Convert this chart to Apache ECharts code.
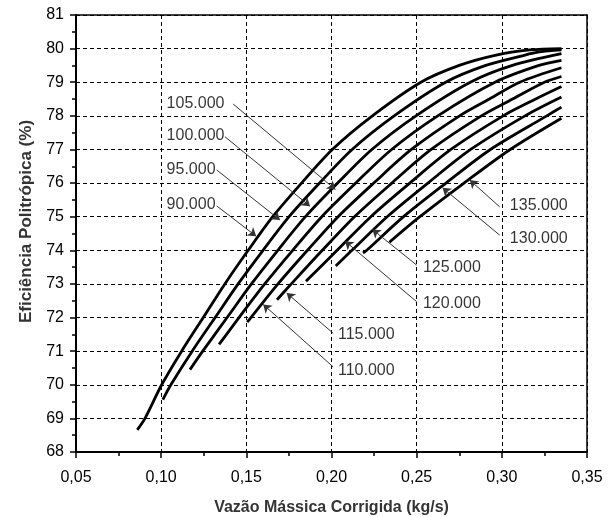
<!DOCTYPE html>
<html><head><meta charset="utf-8">
<script src="https://cdn.jsdelivr.net/npm/echarts@6/dist/echarts.min.js"></script>
<style>html,body{margin:0;padding:0;background:#fff}#c{width:611px;height:517px}</style>
</head><body><div id="c"></div>
<script>
// Tick labels
const xTickLabels = ['0,05','0,10','0,15','0,20','0,25','0,30','0,35'];
const yTickLabels = ['68','69','70','71','72','73','74','75','76','77','78','79','80','81'];

// Curves: [corrected mass flow (kg/s), polytropic efficiency (%)]
const curve90  = [[0.0860,68.66],[0.0905,69],[0.1003,70],[0.1120,71],[0.1247,72],[0.1374,73],[0.1511,74],[0.1655,75],[0.1824,76],[0.2005,77],[0.2240,78],[0.2525,79],[0.2750,79.5],[0.2960,79.8],[0.3164,79.96],[0.3350,80.0]];
const curve95  = [[0.1010,69.56],[0.1057,70],[0.1182,71],[0.1317,72],[0.1452,73],[0.1598,74],[0.1751,75],[0.1930,76],[0.2121,77],[0.2368,78],[0.2670,79],[0.2906,79.5],[0.3130,79.8],[0.3220,79.9],[0.3350,79.96]];
const curve100 = [[0.1169,70.45],[0.1244,71],[0.1387,72],[0.1530,73],[0.1685,74],[0.1847,75],[0.2036,76],[0.2237,77],[0.2496,78],[0.2815,79],[0.3062,79.5],[0.3350,79.85]];
const curve105 = [[0.1340,71.2],[0.1457,72],[0.1608,73],[0.1772,74],[0.1943,75],[0.2142,76],[0.2353,77],[0.2624,78],[0.2960,79],[0.3218,79.5],[0.3350,79.65]];
const curve110 = [[0.1505,71.86],[0.1527,72],[0.1686,73],[0.1859,74],[0.2039,75],[0.2248,76],[0.2469,77],[0.2752,78],[0.2927,78.5],[0.3105,79],[0.3350,79.43]];
const curve115 = [[0.1680,72.53],[0.1764,73],[0.1946,74],[0.2135,75],[0.2354,76],[0.2585,77],[0.2880,78],[0.3063,78.5],[0.3250,79],[0.3350,79.17]];
const curve120 = [[0.1850,73.08],[0.2033,74],[0.2231,75],[0.2460,76],[0.2701,77],[0.3008,78],[0.3199,78.5],[0.3350,78.87]];
const curve125 = [[0.2025,73.53],[0.2120,74],[0.2327,75],[0.2566,76],[0.2817,77],[0.3136,78],[0.3350,78.56]];
const curve130 = [[0.2185,73.92],[0.2207,74],[0.2423,75],[0.2672,76],[0.2933,77],[0.3264,78],[0.3350,78.26]];
const curve135 = [[0.2340,74.24],[0.2519,75],[0.2778,76],[0.3049,77],[0.3350,77.93]];

const seriesNames = ['90.000','95.000','100.000','105.000','110.000','115.000','120.000','125.000','130.000','135.000'];
const curves = [curve90,curve95,curve100,curve105,curve110,curve115,curve120,curve125,curve130,curve135];

// Annotation labels: [text, x, y] (text left edge, vertical centre)
const labelPoints = [
  ['105.000',0.1032,78.37],['100.000',0.1032,77.40],['95.000',0.1032,76.39],['90.000',0.1032,75.35],
  ['135.000',0.3047,75.32],['130.000',0.3047,74.35],['125.000',0.2537,73.49],['120.000',0.2537,72.42],
  ['115.000',0.2038,71.48],['110.000',0.2038,70.43]
];
// Arrow leader lines: start point and tip
const arrowStarts = [[0.1423,78.35],[0.1374,77.38],[0.1326,76.39],[0.1326,75.32],[0.2988,75.29],[0.2988,74.45],[0.2500,73.56],[0.2500,72.47],[0.2010,71.53],[0.2010,70.53]];
const arrowTips   = [[0.2023,75.81],[0.1874,75.31],[0.1698,74.90],[0.1558,74.42],[0.2812,76.09],[0.2652,75.86],[0.2240,74.62],[0.2080,74.27],[0.1737,72.73],[0.1599,72.39]];

const FONT = 'Liberation Sans, Arial, sans-serif';
const chart = echarts.init(document.getElementById('c'), null, {renderer:'canvas'});

const series = curves.map((d,i)=>({
  name: seriesNames[i], type:'line', data:d, smooth:0.3, symbol:'none',
  lineStyle:{color:'#000', width:2.8}, z:3
}));
series.push({
  type:'lines', coordinateSystem:'cartesian2d', z:4,
  symbol:['none','arrow'], symbolSize:8,
  lineStyle:{color:'#333', width:1, opacity:1},
  data: arrowStarts.map((s,i)=>({coords:[s, arrowTips[i]]}))
});
series.push({
  type:'scatter', symbolSize:0, itemStyle:{color:'#000'}, z:5,
  data: labelPoints.map(p=>({name:p[0], value:[p[1],p[2]]})),
  label:{show:true, position:'right', distance:0, formatter:p=>p.name,
    color:'#000', fontSize:16, fontFamily:FONT}
});

const dash = {color:'#000', width:1, type:[4,3]};

chart.setOption({
  animation:false,
  backgroundColor:'#fff',
  grid:{left:76, right:24, top:15, bottom:65, containLabel:false, outerBoundsMode:'none'},
  xAxis:[{
    type:'value', min:0.05, max:0.35, interval:0.05, position:'bottom',
    name:'Vazão Mássica Corrigida (kg/s)', nameLocation:'middle', nameGap:48,
    nameTextStyle:{fontSize:16, fontWeight:'bold', color:'#333', fontFamily:FONT},
    axisLine:{show:true, onZero:false, lineStyle:{color:'#000', width:2}},
    axisTick:{show:true, length:6, lineStyle:{color:'#000', width:1.5}},
    minorTick:{show:true, splitNumber:2, length:4, lineStyle:{color:'#000', width:1.5}},
    axisLabel:{margin:18, fontSize:16, color:'#000', fontFamily:FONT,
      formatter:(v)=>xTickLabels[Math.round((v-0.05)/0.05)]},
    splitLine:{show:true, lineStyle:dash}
  },{
    type:'value', min:0.05, max:0.35, interval:0.05, position:'top',
    axisLine:{show:true, onZero:false, lineStyle:{color:'#000', width:1.5}},
    axisTick:{show:false}, axisLabel:{show:false}, splitLine:{show:false}
  }],
  yAxis:[{
    type:'value', min:68, max:81, interval:1, position:'left',
    name:'Eficiência Politrópica (%)', nameLocation:'middle', nameGap:40,
    nameTextStyle:{fontSize:17, fontWeight:'bold', color:'#333', fontFamily:FONT, padding:[0,0,0,24]},
    axisLine:{show:true, onZero:false, lineStyle:{color:'#000', width:2}},
    axisTick:{show:true, length:6, lineStyle:{color:'#000', width:1.5}},
    minorTick:{show:true, splitNumber:2, length:4, lineStyle:{color:'#000', width:1.5}},
    axisLabel:{margin:12, fontSize:16, color:'#000', fontFamily:FONT,
      formatter:(v)=>yTickLabels[Math.round(v-68)]},
    splitLine:{show:true, lineStyle:dash}
  },{
    type:'value', min:68, max:81, interval:1, position:'right',
    axisLine:{show:true, onZero:false, lineStyle:{color:'#000', width:1.5}},
    axisTick:{show:false}, axisLabel:{show:false}, splitLine:{show:false}
  }],
  series: series
});
</script></body></html>
